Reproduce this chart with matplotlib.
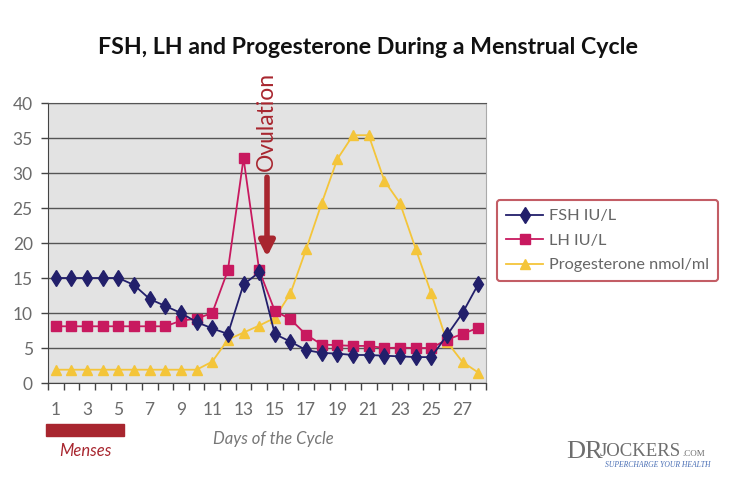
import matplotlib
matplotlib.use("Agg")
import matplotlib.pyplot as plt
from matplotlib.patches import Rectangle

plt.rcParams["font.family"] = ["Lato", "DejaVu Sans"]

days = list(range(1, 29))
fsh = [15, 15, 15, 15, 15, 14, 12, 11, 10, 8.7, 7.8, 7.0, 14.1, 15.8,
       7.0, 5.9, 4.7, 4.3, 4.2, 4.0, 4.0, 3.9, 3.8, 3.7, 3.7, 6.8, 10.0, 14.1]
lh = [8.1, 8.1, 8.1, 8.1, 8.1, 8.1, 8.1, 8.1, 8.9, 9.2, 10.0, 16.1, 32.1, 16.1,
      10.3, 9.1, 6.9, 5.5, 5.4, 5.3, 5.3, 5.0, 5.05, 5.0, 5.0, 6.2, 7.0, 7.9]
prog = [1.9, 1.9, 1.9, 1.9, 1.9, 1.9, 1.9, 1.9, 1.9, 1.9, 3.05, 6.2, 7.2, 8.2,
        9.3, 12.8, 19.1, 25.7, 32.0, 35.4, 35.4, 28.9, 25.7, 19.2, 12.8, 5.9, 3.0, 1.5]
tick_days = list(range(1, 28, 2))
y_ticks = list(range(0, 41, 5))

W, H = 736, 490
fig = plt.figure(figsize=(W / 100, H / 100), dpi=100)
ax = fig.add_axes([48 / W, 1 - 383 / H, (486 - 48) / W, (383 - 103) / H])
ax.set_facecolor("#e3e3e3")

ax.plot(days, fsh, color="#221f6b", lw=1.3, marker="d", ms=8, label="FSH IU/L", zorder=4)
ax.plot(days, lh, color="#c8195f", lw=1.3, marker="s", ms=6.5, label="LH IU/L", zorder=3)
ax.plot(days, prog, color="#f4c53a", lw=1.3, marker="^", ms=7.5,
        label="Progesterone nmol/ml", zorder=2)

ax.set_xlim(0.5, 28.5)
ax.set_ylim(0, 40)
ax.set_yticks(y_ticks)
ax.yaxis.grid(True, color="#555555", lw=1)
ax.set_axisbelow(True)
ax.set_xticks([d + 0.5 for d in range(0, 29)])
ax.set_xticklabels([])
ax.set_xticks(tick_days, minor=True)
ax.set_xticklabels([str(d) for d in tick_days], minor=True)
ax.tick_params(axis="x", which="major", length=5, width=1, color="#444444", direction="out")
ax.tick_params(axis="x", which="minor", length=0, pad=14, labelsize=12.5, labelcolor="#6b6b6b")
ax.tick_params(axis="y", length=5, width=1, color="#444444", pad=6, labelsize=12.5,
               labelcolor="#6b6b6b")
for s in ["left", "bottom"]:
    ax.spines[s].set_color("#444444")
ax.spines["top"].set_color("#555555")
ax.spines["right"].set_color("#aaaaaa")

fig.text(368 / W, 1 - 47 / H, "FSH, LH and Progesterone During a Menstrual Cycle",
         ha="center", va="center", fontsize=16.7, fontweight="bold", color="#111111")

red = "#a8262f"
fig.text(266 / W, 1 - 121 / H, "Ovulation", rotation=90, ha="center", va="center",
         fontsize=16.5, color=red)
ax.annotate("", xy=(14.5, 18.0), xytext=(14.5, 29.4),
            arrowprops=dict(arrowstyle="-|>,head_width=0.45,head_length=0.9",
                            lw=4, color=red, shrinkA=0, shrinkB=0), zorder=5)

fig.patches.append(Rectangle((46 / W, 1 - 436 / H), 78 / W, 12 / H,
                             transform=fig.transFigure, color=red))
fig.text(85 / W, 1 - 451 / H, "Menses", ha="center", va="center", fontsize=12,
         style="italic", color=red)
fig.text(273 / W, 1 - 439 / H, "Days of the Cycle", ha="center", va="center",
         fontsize=12, style="italic", color="#777777")

leg = fig.legend(loc="upper left", bbox_to_anchor=(497 / W, 1 - 200 / H), fontsize=11.7,
                 labelcolor="#666666", handlelength=2.3, handletextpad=0.35,
                 labelspacing=0.62, borderpad=0.55, borderaxespad=0,
                 frameon=True, fancybox=True)
frame = leg.get_frame()
frame.set_edgecolor("#b5353f")
frame.set_linewidth(1.5)
frame.set_facecolor("white")

# logo
fig.text(566 / W, 1 - 452 / H, "DR", fontsize=19, family="Liberation Serif",
         color="#6e6e6e", va="center", ha="left")
fig.text(600 / W, 1 - 451 / H, "JOCKERS", fontsize=13.5, family="Liberation Serif",
         color="#6e6e6e", va="center", ha="left")
fig.text(682 / W, 1 - 454 / H, ".COM", fontsize=6.5, family="Liberation Serif",
         color="#6e6e6e", va="center", ha="left")
fig.text(605 / W, 1 - 465 / H, "SUPERCHARGE YOUR HEALTH", fontsize=5.5,
         family="Liberation Serif", style="italic", color="#4a6fb5", va="center", ha="left")

fig.savefig("out.png", dpi=100)
